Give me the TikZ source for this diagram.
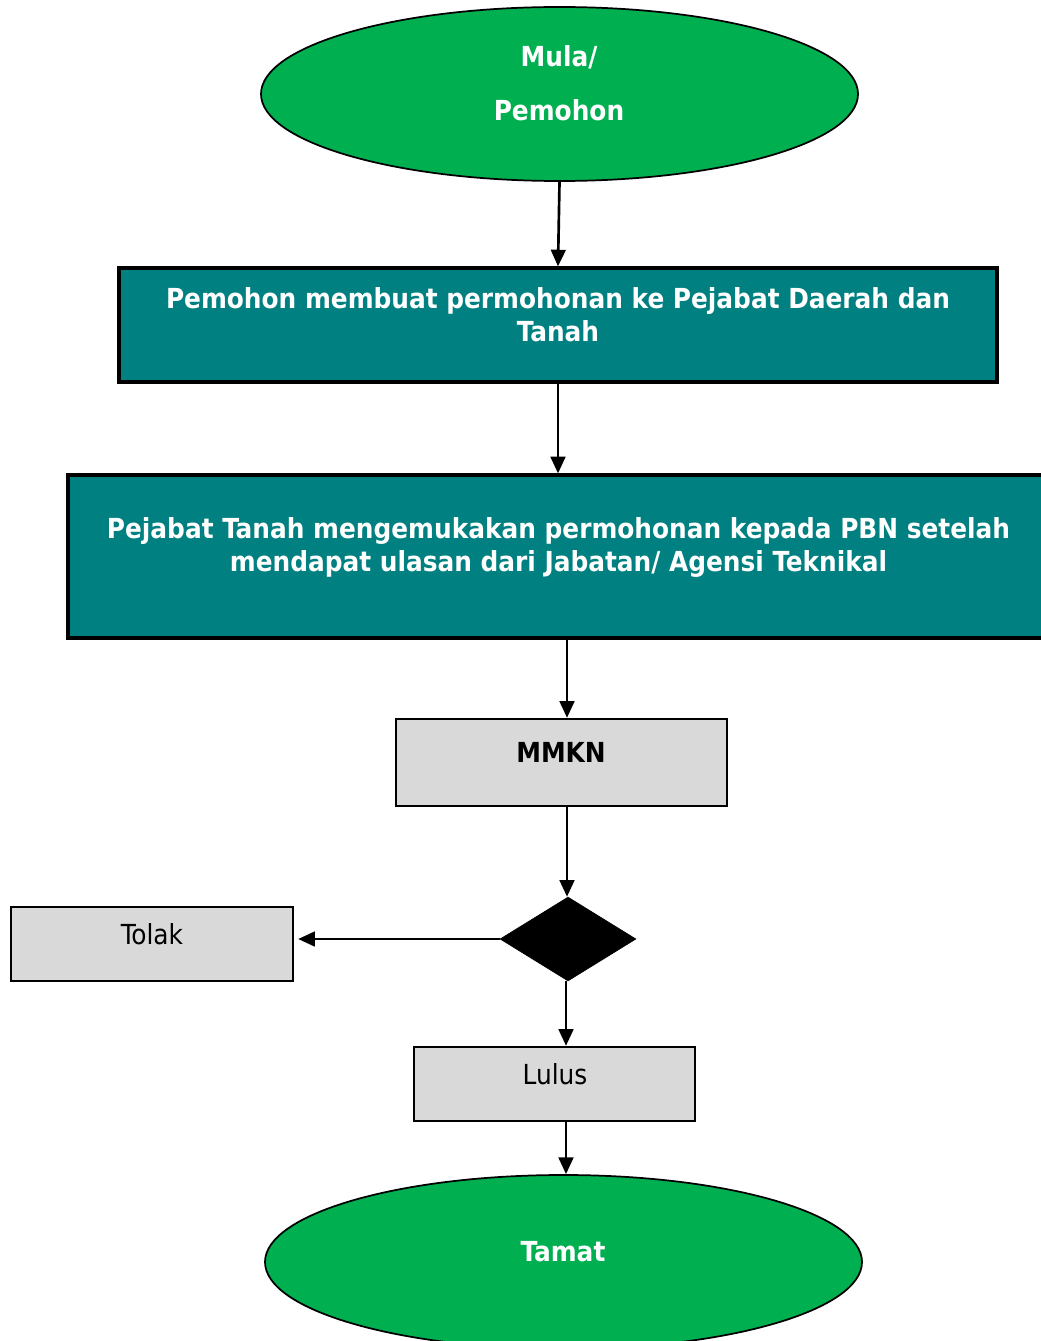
\documentclass[tikz,border=0pt]{standalone}
\usepackage{fontspec}
\setmainfont{DejaVu Sans Condensed}
\usetikzlibrary{shapes.geometric,arrows.meta}
\definecolor{startgreen}{HTML}{00B050}
\definecolor{tealfill}{HTML}{008080}
\definecolor{boxgrey}{HTML}{D9D9D9}
\begin{document}
\begin{tikzpicture}[x=0.75pt,y=-0.75pt,
  term/.style={ellipse, draw=black, line width=1.3pt, fill=startgreen, minimum width=447.75pt, minimum height=130.5pt, inner sep=0pt},
  tealbox/.style={rectangle, draw=black, line width=2.4pt, fill=tealfill, inner sep=0pt},
  greybox/.style={rectangle, draw=black, line width=1.8pt, fill=boxgrey, inner sep=0pt},
  wtxt/.style={text=white, font=\bfseries\fontsize{20.7}{25}\selectfont, align=center, inner sep=0pt},
  btxt/.style={text=black, font=\fontsize{20.7}{25}\selectfont, inner sep=0pt, anchor=base},
  conn/.style={line width=2pt, -{Triangle[width=11pt,length=12.5pt]}}
]
\useasboundingbox (0,0) rectangle (1040,1341);
% shapes
\node[term] (e1) at (559.5,94) {};
\node[tealbox, minimum width=658.5pt, minimum height=85.5pt] (b1) at (558,325) {};
\node[tealbox, minimum width=735pt, minimum height=122.25pt] (b2) at (558,556.5) {};
\node[greybox, minimum width=248.25pt, minimum height=65.25pt] (mmkn) at (561.5,762.5) {};
\node[diamond, draw=black, fill=black, inner sep=0pt, minimum width=102pt, minimum height=63pt] (dia) at (568,939) {};
\node[greybox, minimum width=211.5pt, minimum height=55.5pt] (tolak) at (152,944) {};
\node[greybox, minimum width=210.75pt, minimum height=55.5pt] (lulus) at (554.5,1084) {};
\node[term] (e2) at (563.5,1262) {};
% texts
\node[wtxt, anchor=base] (t1a) at (559,67) {Mula/};
\node[wtxt, anchor=base] (t1b) at (559,121) {Pemohon};
\node[wtxt] (t2) at (558,315) {Pemohon membuat permohonan ke Pejabat Daerah dan\\Tanah};
\node[wtxt] (t3) at (558.5,547.5) {Pejabat Tanah mengemukakan permohonan kepada PBN setelah\\mendapat ulasan dari Jabatan/ Agensi Teknikal};
\node[btxt, font=\bfseries\fontsize{20.7}{25}\selectfont] (t4) at (561,762) {MMKN};
\node[btxt] (t5) at (152,944) {Tolak};
\node[btxt] (t6) at (555,1084) {Lulus};
\node[wtxt, anchor=base] (t7) at (563,1261) {Tamat};
% connectors
\draw[conn] (e1.south) -- (b1.north);
\draw[conn] (b1.south) -- (b2.north);
\draw[conn] (b2.south -| 567,0) -- (mmkn.north -| 567,0);
\draw[conn] (mmkn.south -| 567,0) -- (dia.north -| 567,0);
\draw[conn, shorten >=3pt] (dia.west) -- (dia.west -| tolak.east);
\draw[conn] (dia.south -| 566,0) -- (lulus.north -| 566,0);
\draw[conn] (lulus.south -| 566,0) -- (e2.north -| 566,0);
\end{tikzpicture}
\end{document}
